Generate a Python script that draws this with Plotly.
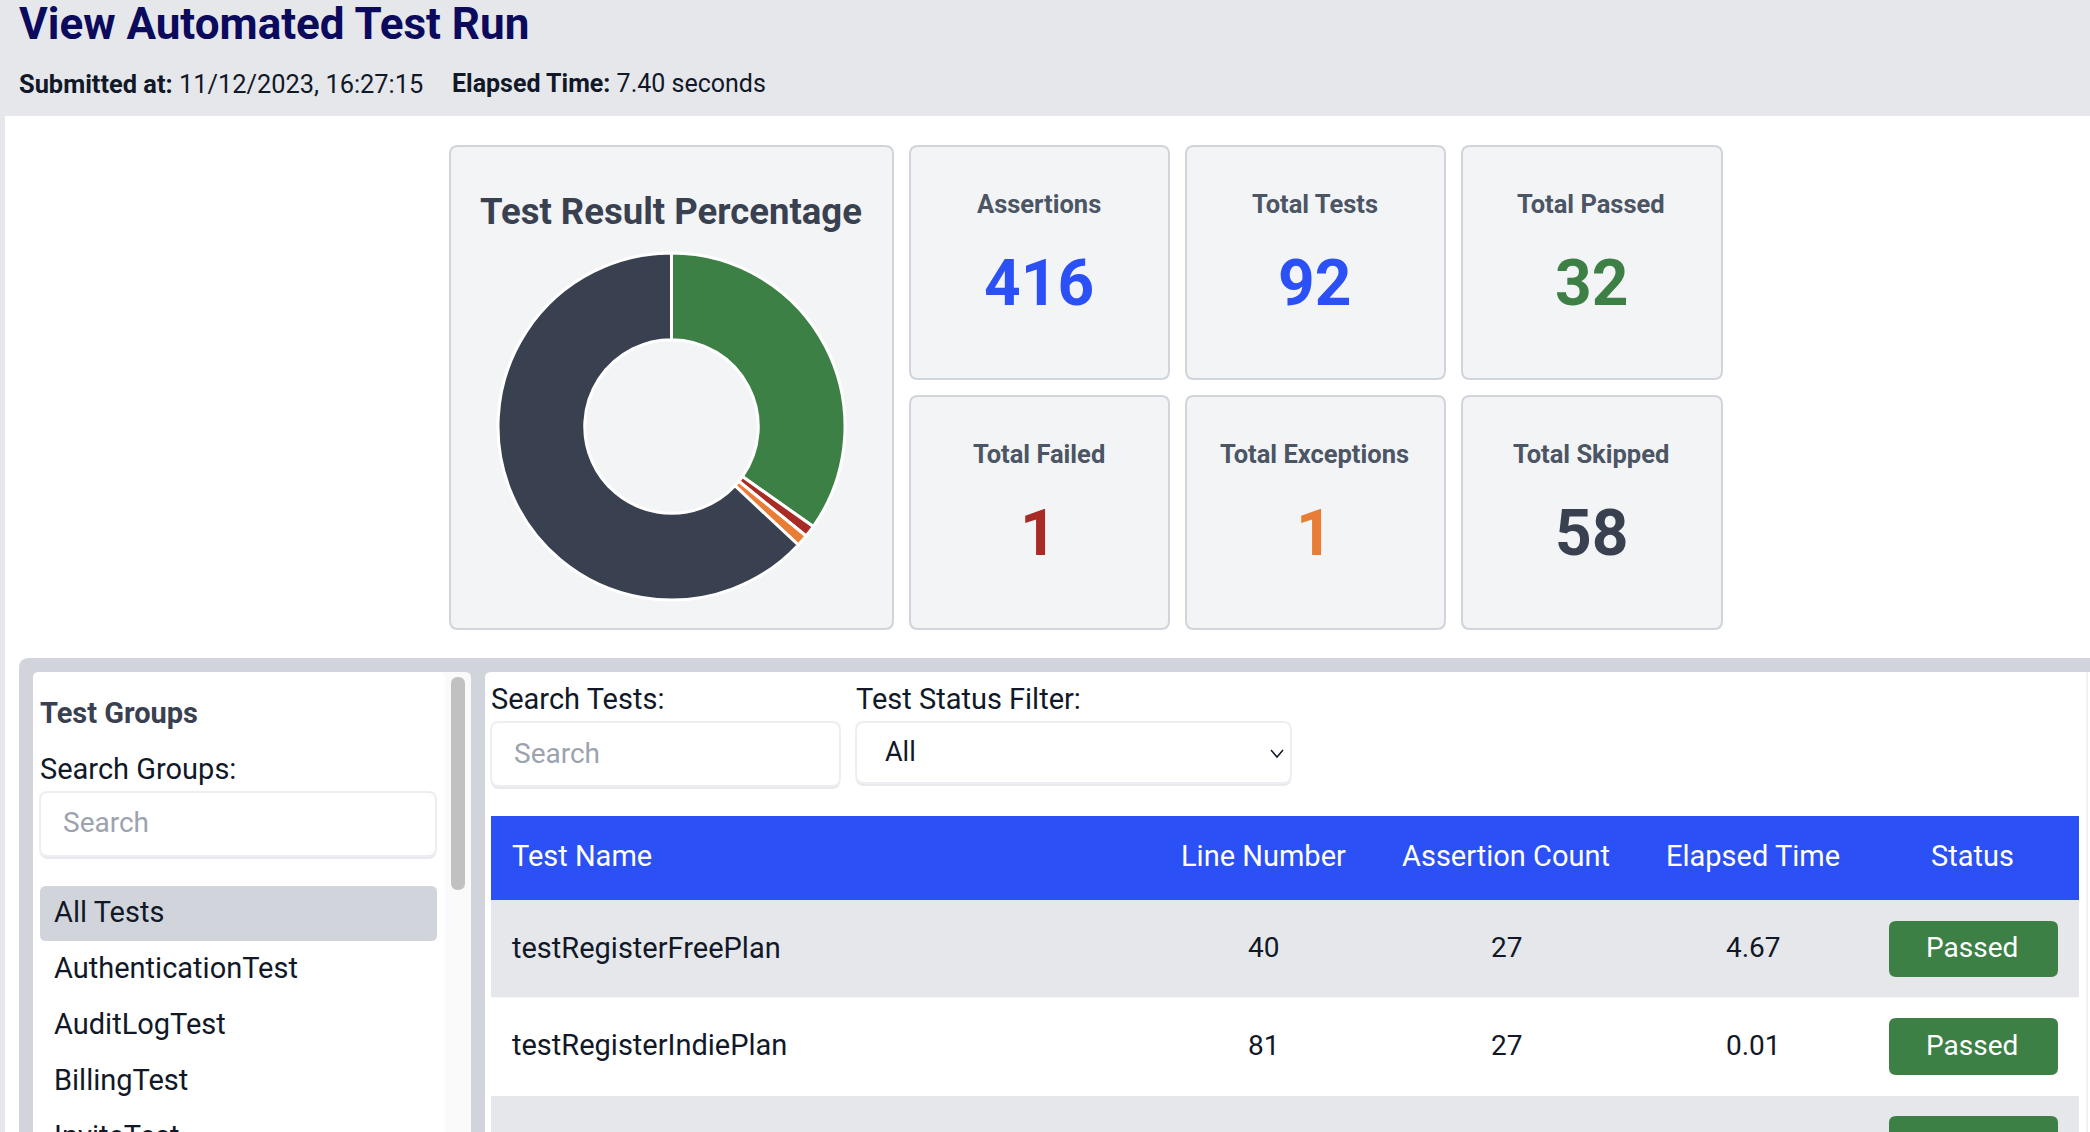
import plotly.graph_objects as go

W, H = 2090, 1132

# Data
page_title = "View Automated Test Run"
submitted_at = "11/12/2023, 16:27:15"
elapsed_time = "7.40 seconds"

slice_labels = ["Passed", "Failed", "Exceptions", "Skipped"]
slice_values = [32, 1, 1, 58]

card_titles = ["Assertions", "Total Tests", "Total Passed", "Total Failed", "Total Exceptions", "Total Skipped"]
card_values = [416, 92, 32, 1, 1, 58]

group_names = ["All Tests", "AuthenticationTest", "AuditLogTest", "BillingTest", "InviteTest"]

table_headers = ["Test Name", "Line Number", "Assertion Count", "Elapsed Time", "Status"]
test_names = ["testRegisterFreePlan", "testRegisterIndiePlan"]
line_numbers = [40, 81]
assertion_counts = [27, 27]
elapsed_times = ["4.67", "0.01"]
statuses = ["Passed", "Passed"]

# Colours
NAVY = "#0c0a5c"
BLUE = "#2b50f6"
GREEN = "#3d8046"
RED = "#a92b26"
ORANGE = "#e97d35"
SLATE = "#394150"
LABEL = "#4b5563"
PANEL = "#f3f4f6"
LINE = "#d1d5db"
BAND = "#e5e7eb"
INK = "#111827"
HINT = "#9ca3af"
FONT = "Roboto"

card_colors = [BLUE, BLUE, GREEN, RED, ORANGE, SLATE]

shapes = []
notes = []


def px(x):
    return x / W


def py(y):
    return 1 - y / H


def box(x0, y0, x1, y1, fill, line=None, r=0, lw=2):
    # rounded rectangle given in page pixels
    if r:
        path = (
            f"M {px(x0 + r)} {py(y0)} L {px(x1 - r)} {py(y0)} Q {px(x1)} {py(y0)} {px(x1)} {py(y0 + r)} "
            f"L {px(x1)} {py(y1 - r)} Q {px(x1)} {py(y1)} {px(x1 - r)} {py(y1)} "
            f"L {px(x0 + r)} {py(y1)} Q {px(x0)} {py(y1)} {px(x0)} {py(y1 - r)} "
            f"L {px(x0)} {py(y0 + r)} Q {px(x0)} {py(y0)} {px(x0 + r)} {py(y0)} Z"
        )
        shape = dict(type="path", path=path)
    else:
        shape = dict(type="rect", x0=px(x0), x1=px(x1), y0=py(y0), y1=py(y1))
    shape.update(xref="paper", yref="paper", layer="below", fillcolor=fill,
                 line=dict(color=line or fill, width=lw if line else 0))
    shapes.append(shape)


def label(x, y, text, size, color=INK, anchor="left", bold=False):
    notes.append(dict(
        x=px(x), y=py(y), xref="paper", yref="paper", text=f"<b>{text}</b>" if bold else str(text),
        showarrow=False, xanchor=anchor, yanchor="middle", borderpad=0,
        font=dict(family=FONT, size=size, color=color),
    ))


def input_box(x0, y0, x1, y1):
    box(x0, y0 + 3, x1, y1 + 3, "#e8e9ec", r=8)
    box(x0, y0, x1, y1, "white", line="#eceef1", r=8)


# Page header
box(0, 0, 5, H, BAND)
box(5, 0, W, 116, BAND)
label(18, 24, page_title, 44, NAVY, bold=True)
label(18, 84, f"<b>Submitted at:</b> {submitted_at}", 25.4)
label(451, 84, f"<b>Elapsed Time:</b> {elapsed_time}", 25)

# Summary cards
box(450, 146, 893, 629, PANEL, line=LINE, r=8)
label(671, 211, "Test Result Percentage", 36.5, SLATE, "center", bold=True)

card_x = [(910, 1169), (1186, 1445), (1462, 1722)]
card_y = [(146, 379), (396, 629)]
title_y = [204, 454]
value_y = [283, 533]
for n, (title, value, color) in enumerate(zip(card_titles, card_values, card_colors)):
    x0, x1 = card_x[n % 3]
    y0, y1 = card_y[n // 3]
    box(x0, y0, x1, y1, PANEL, line=LINE, r=8)
    label((x0 + x1) / 2 - 1, title_y[n // 3], title, 25.5, LABEL, "center", bold=True)
    label((x0 + x1) / 2 - 1, value_y[n // 3], value, 64, color, "center", bold=True)

# Bottom frame with the group list
box(19, 658, W + 20, H + 20, LINE, r=10)
box(33, 672, 471, H + 20, "#fafafa", r=6)
box(33, 672, 445, H + 20, "white", r=6)
box(451, 677, 465, 890, "#c1c1c1", r=7)
label(39, 713, "Test Groups", 29, SLATE, bold=True)
label(39, 769, "Search Groups:", 29)
input_box(40, 792, 436, 856)
label(62, 823, "Search", 28, HINT)
box(40, 886, 437, 941, LINE, r=6)
for n, name in enumerate(group_names):
    label(53, 912 + 56 * n, name, 29)

# Test table panel
box(485, 672, W + 20, H + 20, "white", r=6)
box(2086, 672, 2088, H, "#f0f1f3")
label(490, 699, "Search Tests:", 29)
input_box(491, 722, 840, 786)
label(513, 753, "Search", 28, HINT)
label(855, 699, "Test Status Filter:", 29)
input_box(856, 722, 1291, 783)
label(884, 752, "All", 27)
shapes.append(dict(
    type="path", xref="paper", yref="paper", layer="below",
    path=f"M {px(1271)} {py(750)} L {px(1277)} {py(757)} L {px(1283)} {py(750)}",
    line=dict(color=INK, width=1.5),
))

col_x = [511, 1263, 1506, 1753, 1972]
box(491, 816, 2079, 900, BLUE)
for n, head in enumerate(table_headers):
    label(col_x[n], 856, head, 29, "white", "left" if n == 0 else "center")

row_y = [(900, 997.5), (997.5, 1096), (1096, H + 20)]
button_y = [(921, 977), (1018, 1075), (1116, H + 20)]
for n, (y0, y1) in enumerate(row_y):
    box(491, y0, 2079, y1, BAND if n % 2 == 0 else "white")
    box(1889, button_y[n][0], 2058, button_y[n][1], GREEN, r=7)

for n, name in enumerate(test_names):
    mid = sum(button_y[n]) / 2 - 1.5
    label(col_x[0], mid, name, 29)
    label(col_x[1], mid, line_numbers[n], 28, anchor="center")
    label(col_x[2], mid, assertion_counts[n], 28, anchor="center")
    label(col_x[3], mid, elapsed_times[n], 28, anchor="center")
    label(col_x[4], mid, statuses[n], 28, "white", "center")

# Donut
R = 173.5
fig = go.Figure(go.Pie(
    labels=slice_labels,
    values=slice_values,
    hole=0.5,
    sort=False,
    direction="clockwise",
    rotation=0,
    textinfo="none",
    showlegend=False,
    marker=dict(colors=[GREEN, RED, ORANGE, SLATE], line=dict(color="white", width=3)),
    domain=dict(x=[px(671.5 - R), px(671.5 + R)], y=[py(426.5 + R), py(426.5 - R)]),
))

fig.update_layout(
    width=W,
    height=H,
    autosize=False,
    margin=dict(l=0, r=0, t=0, b=0),
    paper_bgcolor="white",
    plot_bgcolor="white",
    showlegend=False,
    shapes=shapes,
    annotations=notes,
)

fig.write_html("out.html", config=dict(displayModeBar=False),
               post_script="document.body.style.margin='0';document.body.style.overflow='hidden';")
